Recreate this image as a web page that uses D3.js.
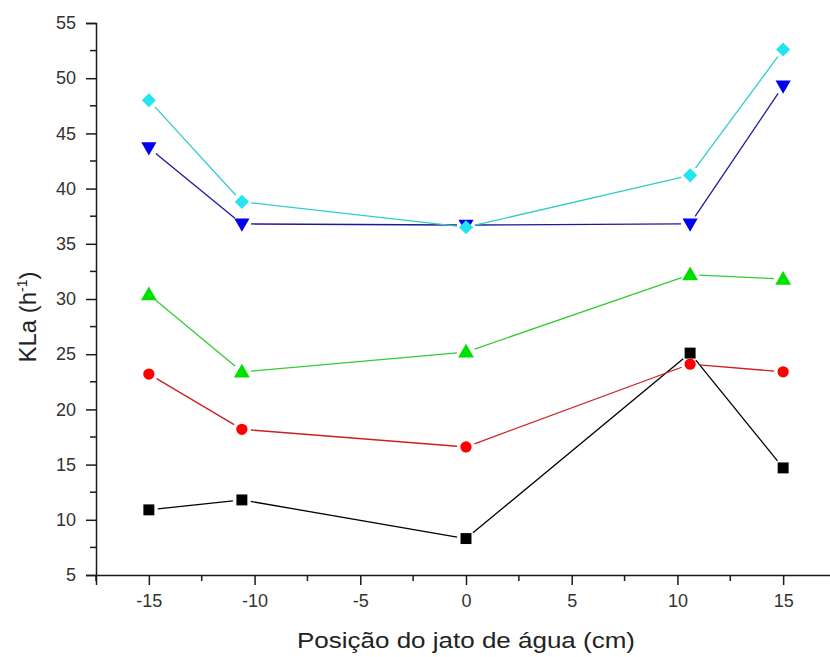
<!DOCTYPE html>
<html>
<head>
<meta charset="utf-8">
<script src="https://cdn.jsdelivr.net/npm/d3@7"></script>
<style>
  html, body { margin: 0; padding: 0; background: #fff; }
  svg { display: block; }
  text { font-family: "Liberation Sans", Arial, sans-serif; }
</style>
</head>
<body>
<svg id="chart" width="830" height="657"></svg>
<script>
// Jet position (cm) for each measurement
const positions = [-15, -10.6, 0, 10.6, 15];

// KLa (h^-1) series, bottom to top
const seriesSquare   = [10.9, 11.8, 8.3, 25.1, 14.7];
const seriesCircle   = [23.2, 18.2, 16.6, 24.1, 23.4];
const seriesTriUp    = [30.4, 23.4, 25.2, 32.2, 31.8];
const seriesTriDown  = [43.7, 36.8, 36.7, 36.8, 49.3];
const seriesDiamond  = [48.0, 38.8, 36.5, 41.2, 52.6];

const xTickValues = [-15, -10, -5, 0, 5, 10, 15];
const yTickValues = [5, 10, 15, 20, 25, 30, 35, 40, 45, 50, 55];

const series = [
  { values: seriesSquare,  symbol: d3.symbolSquare,   size: 120, rot: 0,   fill: "#000000", line: "#000000" },
  { values: seriesCircle,  symbol: d3.symbolCircle,   size: 100, rot: 0,   fill: "#ff0000", line: "#cc2020" },
  { values: seriesTriUp,   symbol: d3.symbolTriangle, size: 110, rot: 0,   fill: "#00e000", line: "#33cc33" },
  { values: seriesTriDown, symbol: d3.symbolTriangle, size: 100, rot: 180, fill: "#0000ee", line: "#1a1a99" },
  { values: seriesDiamond, symbol: d3.symbolSquare,   size: 100, rot: 45,  fill: "#22e5f0", line: "#33cccc" }
];

const svg = d3.select("#chart");
const x = d3.scaleLinear().domain([-17.5, 17.5]).range([96, 836]);
const y = d3.scaleLinear().domain([5, 55]).range([575, 23]);

const axisColor = "#1a1a1a";

// Axes
const xAxis = d3.axisBottom(x).tickValues(xTickValues).tickSize(10).tickPadding(9).tickFormat(d3.format("d"));
const gx = svg.append("g").attr("transform", `translate(0,${y(5)})`).call(xAxis);
// minor x ticks
svg.append("g").selectAll("line")
  .data(d3.range(-17.5, 17.6, 5))
  .join("line")
  .attr("x1", d => x(d)).attr("x2", d => x(d))
  .attr("y1", y(5)).attr("y2", y(5) + 6)
  .attr("stroke", axisColor).attr("stroke-width", 1.5);

const yAxis = d3.axisLeft(y).tickValues(yTickValues).tickSize(10).tickPadding(10).tickFormat(d3.format("d"));
const gy = svg.append("g").attr("transform", `translate(${x(-17.5)},0)`).call(yAxis);
svg.append("g").selectAll("line")
  .data(d3.range(7.5, 55, 5))
  .join("line")
  .attr("x1", x(-17.5) - 6).attr("x2", x(-17.5))
  .attr("y1", d => y(d)).attr("y2", d => y(d))
  .attr("stroke", axisColor).attr("stroke-width", 1.5);

[gx, gy].forEach(g => {
  g.select(".domain").attr("stroke", axisColor).attr("stroke-width", 1.5);
  g.selectAll(".tick line").attr("stroke", axisColor).attr("stroke-width", 1.5);
  g.selectAll(".tick text")
    .attr("fill", "#333")
    .style("font-size", "18px")
    .style("font-family", "'Liberation Sans', Arial, sans-serif");
});
gx.selectAll(".tick text").text(d => d < 0 ? "-" + Math.abs(d) : d);

// Connecting lines, with a small gap left around each marker
const gap = 9;
series.forEach(s => {
  const pts = positions.map((p, i) => [x(p), y(s.values[i])]);
  const segs = [];
  for (let i = 0; i < pts.length - 1; i++) {
    const [x0, y0] = pts[i], [x1, y1] = pts[i + 1];
    const len = Math.hypot(x1 - x0, y1 - y0);
    const ux = (x1 - x0) / len, uy = (y1 - y0) / len;
    segs.push([x0 + ux * gap, y0 + uy * gap, x1 - ux * gap, y1 - uy * gap]);
  }
  svg.append("g").selectAll("line").data(segs).join("line")
    .attr("x1", d => d[0]).attr("y1", d => d[1])
    .attr("x2", d => d[2]).attr("y2", d => d[3])
    .attr("stroke", s.line).attr("stroke-width", 1.3);
});

// Markers
series.forEach(s => {
  const sym = d3.symbol().type(s.symbol).size(s.size);
  svg.append("g").selectAll("path")
    .data(positions.map((p, i) => [p, s.values[i]]))
    .join("path")
    .attr("d", sym)
    .attr("transform", d => `translate(${x(d[0])},${y(d[1]) + (s.symbol === d3.symbolTriangle ? (s.rot ? -1 : 1) : 0)}) rotate(${s.rot})`)
    .attr("fill", s.fill);
});

// Axis titles
svg.append("text")
  .attr("x", x(0)).attr("y", 648)
  .attr("text-anchor", "middle")
  .attr("textLength", 338).attr("lengthAdjust", "spacingAndGlyphs")
  .attr("fill", "#222")
  .style("font-size", "22px")
  .text("Posição do jato de água (cm)");

const yl = svg.append("text")
  .attr("transform", `translate(36,317) rotate(-90)`)
  .attr("text-anchor", "middle")
  .attr("fill", "#222")
  .style("font-size", "24px");
yl.append("tspan").text("KLa (h");
yl.append("tspan").attr("dy", -9).style("font-size", "14px").text("-1");
yl.append("tspan").attr("dy", 9).text(")");
</script>
</body>
</html>
